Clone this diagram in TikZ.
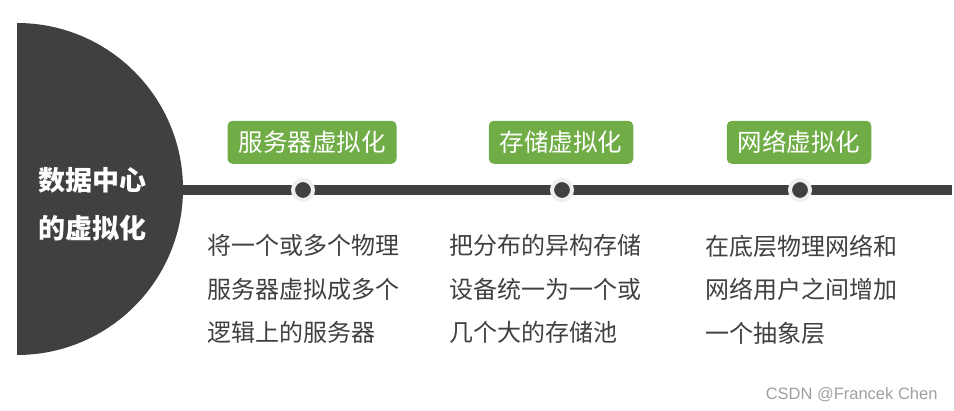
\documentclass[tikz,border=0pt]{standalone}
\usepackage{fontspec}
\setmainfont{Noto Sans CJK SC}
\newfontfamily\markfont{Liberation Sans}
\usepackage{xcolor}
\usepackage{tikz}
\usetikzlibrary{positioning}
\definecolor{hubgray}{HTML}{404040}
\definecolor{tabgreen}{HTML}{70AD47}
\definecolor{ringgray}{HTML}{EFEFEF}
\tikzset{
  hub/.style={align=center, text=white, inner sep=0pt,
              font=\fontsize{27}{48}\selectfont\bfseries},
  tag/.style={rectangle, fill=tabgreen, text=white, rounded corners=5pt,
              minimum height=43pt, inner xsep=11pt,
              font=\fontsize{24.5}{24.5}\selectfont},
  dot/.style={circle, draw=ringgray, fill=hubgray, line width=4pt,
              minimum size=20pt, inner sep=0pt},
  note/.style={align=left, text=hubgray, inner sep=0pt, anchor=north west,
               font=\fontsize{24}{43.5}\selectfont},
  spine/.style={draw=hubgray, line width=10pt},
}

\begin{document}
\begin{tikzpicture}[x=1pt, y=1pt, node distance=14pt]
  \useasboundingbox (0,0) rectangle (955,411);
  \fill[hubgray] (17,388) arc[start angle=90, end angle=-90, radius=166] -- cycle;
  \node[hub] (title) at (92,207) {数据中心\\的虚拟化};

  \coordinate (start) at (182,221);
  \coordinate (end) at (952,221);
  \draw[spine] (start) -- (end);

  \node[dot] (server) at (303,221) {};
  \node[dot] (storage) at (562,221) {};
  \node[dot] (network) at (800,221) {};

  \node[tag, above=of server, xshift=9pt] (serverTag) {服务器虚拟化};
  \node[tag, above=of storage, xshift=-1pt] (storageTag) {存储虚拟化};
  \node[tag, above=of network, xshift=-1pt] (networkTag) {网络虚拟化};

  \node[note] (serverNote) at (207,176.5) {将一个或多个物理\\服务器虚拟成多个\\逻辑上的服务器};
  \node[note] (storageNote) at (449,176.5) {把分布的异构存储\\设备统一为一个或\\几个大的存储池};
  \node[note] (networkNote) at (705,176.5) {在底层物理网络和\\网络用户之间增加\\一个抽象层};

  \draw[ringgray!70!gray, line width=1pt] (954,0) -- (954,411);
  \node[text=gray!75, font=\markfont\fontsize{16.5}{16.5}\selectfont,
        anchor=base east] (mark) at (941,11) {CSDN @Francek Chen};
\end{tikzpicture}
\end{document}
